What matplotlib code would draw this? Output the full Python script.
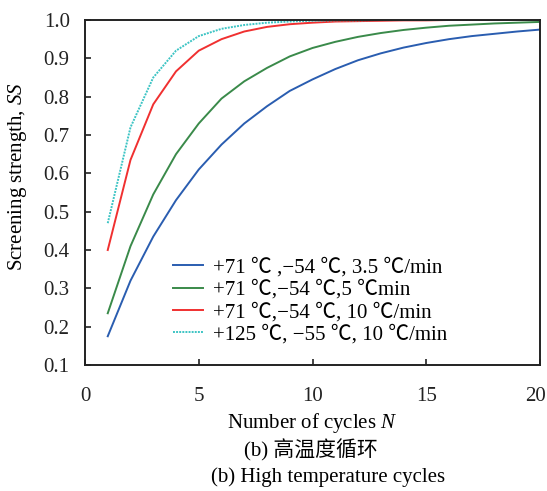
import matplotlib
matplotlib.use('Agg')
import matplotlib.pyplot as plt
import matplotlib.transforms as mtransforms

plt.rcParams['font.family'] = ['Liberation Serif', 'Noto Sans CJK SC']
plt.rcParams['mathtext.fontset'] = 'custom'
plt.rcParams['mathtext.rm'] = 'Liberation Serif'
plt.rcParams['mathtext.it'] = 'Liberation Serif:italic'

cycles = list(range(1, 21))
ss_71_54_35 = [0.175, 0.32, 0.435, 0.53, 0.61, 0.675, 0.73, 0.775, 0.815, 0.845,
               0.872, 0.895, 0.913, 0.928, 0.94, 0.95, 0.958, 0.964, 0.97, 0.975]
ss_71_54_5 = [0.235, 0.41, 0.545, 0.65, 0.73, 0.795, 0.84, 0.875, 0.905, 0.927,
              0.943, 0.956, 0.966, 0.974, 0.98, 0.985, 0.988, 0.991, 0.993, 0.995]
ss_71_54_10 = [0.40, 0.635, 0.78, 0.866, 0.92, 0.95, 0.97, 0.982, 0.989, 0.993,
               0.996, 0.997, 0.998, 0.999, 0.999, 1.0, 1.0, 1.0, 1.0, 1.0]
ss_125_55_10 = [0.47, 0.72, 0.85, 0.92, 0.958, 0.977, 0.987, 0.993, 0.996, 0.998,
                0.999, 0.999, 1.0, 1.0, 1.0, 1.0, 1.0, 1.0, 1.0, 1.0]
labels = ['+71 ℃ ,−54 ℃, 3.5 ℃/min',
          '+71 ℃,−54 ℃,5 ℃min',
          '+71 ℃,−54 ℃, 10 ℃/min',
          '+125 ℃, −55 ℃, 10 ℃/min']
xticks = [0, 5, 10, 15, 20]
yticks = [0.1, 0.2, 0.3, 0.4, 0.5, 0.6, 0.7, 0.8, 0.9, 1.0]

W, H = 547, 491
fs = 15
fig = plt.figure(figsize=(W / 100, H / 100), dpi=100)
ax = fig.add_axes((85 / W, 1 - 365 / H, 455 / W, 345 / H))

ax.plot(cycles, ss_71_54_35, color='#2a5db0', lw=1.4, label=labels[0])
ax.plot(cycles, ss_71_54_5, color='#3a8a4a', lw=1.4, label=labels[1])
ax.plot(cycles, ss_71_54_10, color='#f03030', lw=1.4, label=labels[2])
ax.plot(cycles, ss_125_55_10, color='#3cc4c4', lw=1.4, ls=(0, (1, 0.6)), label=labels[3])

ax.set_xlim(0, 20)
ax.set_ylim(0.1, 1.0)
ax.set_xticks(xticks)
ax.set_yticks(yticks)
ax.set_yticklabels([f'{v:.1f}' for v in yticks])
ax.tick_params(direction='in', length=4, width=1.2, labelsize=fs, colors='#222222')
ax.tick_params(axis='y', pad=11)
ax.tick_params(axis='x', pad=16)
for sp in ax.spines.values():
    sp.set_linewidth(1.4)
    sp.set_color('#222222')

# nudge the last x tick label left so it stays inside the figure
fig.canvas.draw()
last = ax.get_xticklabels()[-1]
last.set_transform(last.get_transform() + mtransforms.ScaledTranslation(-3 / 72, 0, fig.dpi_scale_trans))

ax.legend(loc='upper left', bbox_to_anchor=(0.193, 0.31), frameon=False, fontsize=fs,
          handlelength=1.45, handletextpad=0.48, labelspacing=0.12, borderpad=0, borderaxespad=0)

fig.text(18 / W, 1 - 177 / H, 'Screening strength, $SS$', rotation=90,
         ha='center', va='center', fontsize=fs)
fig.text(312 / W, 1 - 423 / H, 'Number of cycles $N$', ha='center', va='center', fontsize=fs)
fig.text(311 / W, 1 - 450 / H, '(b) 高温度循环', ha='center', va='center', fontsize=fs)
fig.text(328 / W, 1 - 477 / H, '(b) High temperature cycles', ha='center', va='center', fontsize=fs)

fig.savefig('out.png', dpi=100)
